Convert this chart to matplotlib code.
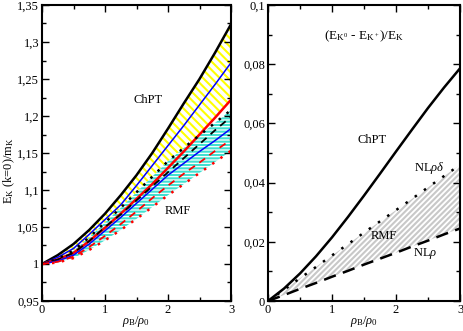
import numpy as np
import matplotlib
matplotlib.use("Agg")
import matplotlib.pyplot as plt
from matplotlib.ticker import MultipleLocator

plt.rcParams['font.family'] = ['Liberation Serif', 'DejaVu Serif']
plt.rcParams['mathtext.fontset'] = 'custom'
plt.rcParams['mathtext.rm'] = 'Liberation Serif'
plt.rcParams['mathtext.it'] = 'Liberation Serif:italic'
plt.rcParams['hatch.linewidth'] = 1.5

# density rho_B/rho_0
rho = [0, 0.25, 0.5, 0.75, 1.0, 1.25, 1.5, 1.75, 2.0, 2.25, 2.5, 2.75, 3.0]

# left panel: E_K(k=0)/m_K
chpt_top = [1, 1.012, 1.027, 1.046, 1.068, 1.093, 1.120, 1.150, 1.183, 1.217, 1.250, 1.286, 1.324]
chpt_blue = [1, 1.009, 1.021, 1.040, 1.060, 1.080, 1.106, 1.133, 1.160, 1.187, 1.215, 1.243, 1.272]
chpt_low = [1, 1.006, 1.015, 1.031, 1.049, 1.068, 1.088, 1.108, 1.130, 1.152, 1.175, 1.198, 1.222]
rmf_dot = [1, 1.007, 1.018, 1.036, 1.056, 1.076, 1.097, 1.118, 1.139, 1.157, 1.174, 1.191, 1.208]
rmf_dash = [1, 1.006, 1.015, 1.031, 1.050, 1.067, 1.086, 1.105, 1.124, 1.143, 1.162, 1.181, 1.199]
rmf_blue = [1, 1.004, 1.012, 1.027, 1.045, 1.063, 1.082, 1.101, 1.120, 1.136, 1.152, 1.167, 1.183]
rmf_rdash = [1, 1.003, 1.010, 1.023, 1.038, 1.054, 1.071, 1.089, 1.106, 1.122, 1.137, 1.153, 1.168]
rmf_rdot = [1, 1.002, 1.008, 1.019, 1.032, 1.046, 1.061, 1.077, 1.093, 1.108, 1.123, 1.138, 1.153]

# right panel: (E_K0 - E_K+)/E_K
diff_chpt = [0, 0.0042, 0.0093, 0.0151, 0.0215, 0.0284, 0.0356, 0.0430, 0.0505, 0.0579, 0.0652, 0.0721, 0.0786]
diff_nlrd = [0, 0.0038, 0.0077, 0.0115, 0.0154, 0.0192, 0.0231, 0.0269, 0.0307, 0.0345, 0.0384, 0.0422, 0.0460]
diff_nlr = [0, 0.0020, 0.0041, 0.0061, 0.0082, 0.0102, 0.0123, 0.0143, 0.0163, 0.0184, 0.0204, 0.0225, 0.0245]

left_yticks = [0.95, 1.0, 1.05, 1.1, 1.15, 1.2, 1.25, 1.3, 1.35]
left_ylabels = ["0,95", "1", "1,05", "1,1", "1,15", "1,2", "1,25", "1,3", "1,35"]
right_yticks = [0, 0.02, 0.04, 0.06, 0.08, 0.1]
right_ylabels = ["0", "0,02", "0,04", "0,06", "0,08", "0,1"]

fig = plt.figure(figsize=(4.63, 3.31), dpi=100)
ax1 = fig.add_axes([42/463, 30/331, 189/463, 296/331])
ax2 = fig.add_axes([268/463, 30/331, 192/463, 296/331])

# ChPT band (yellow) and RMF band (cyan)
ax1.fill_between(rho, chpt_low, chpt_top, facecolor='none', edgecolor='#ffff00',
                 hatch='\\\\\\\\', linewidth=0)
ax1.fill_between(rho, rmf_rdot, rmf_dot, facecolor='white', edgecolor='#40e0d0',
                 hatch='-----', linewidth=0)
ax1.plot(rho, chpt_top, color='k', lw=1.8)
ax1.plot(rho, chpt_blue, color='#0000ff', lw=1.1)
ax1.plot(rho, chpt_low, color='#ff0000', lw=1.8)
ax1.plot(rho, rmf_dot, color='k', lw=1.8, dashes=(1, 3))
ax1.plot(rho, rmf_dash, color='k', lw=1.3, dashes=(4, 3))
ax1.plot(rho, rmf_blue, color='#0000ff', lw=1.1)
ax1.plot(rho, rmf_rdash, color='#ff0000', lw=1.3, dashes=(4, 3))
ax1.plot(rho, rmf_rdot, color='#ff0000', lw=1.8, dashes=(1, 3))

ax1.text(1.69, 1.222, "ChPT", fontsize=9, ha='center', va='center')
ax1.text(2.15, 1.071, "RMF", fontsize=9, ha='center', va='center')

ax1.set_xlim(0, 3)
ax1.set_ylim(0.95, 1.35)
ax1.set_yticks(left_yticks)
ax1.set_yticklabels(left_ylabels)
ax1.yaxis.set_minor_locator(MultipleLocator(0.025))
ax1.set_ylabel("E$_{\\rm K}$ (k=0)/m$_{\\rm K}$", fontsize=9)
ax1.yaxis.set_label_coords(-0.13, 0.44)
ax1.set_xlabel("$\\rho_{\\rm B}/\\rho_0$", fontsize=9)

# right panel
ax2.fill_between(rho, diff_nlr, diff_nlrd, facecolor='none', edgecolor='#c8c8c8',
                 hatch='//////', linewidth=0)
ax2.plot(rho, diff_chpt, color='k', lw=1.8)
ax2.plot(rho, diff_nlrd, color='k', lw=1.8, dashes=(1, 3.5))
ax2.plot(rho, diff_nlr, color='k', lw=1.8, dashes=(5, 3))

ax2.text(1.5, 0.0896, "(E$_{\\rm K^0}$ - E$_{\\rm K^+}$)/E$_{\\rm K}$", fontsize=9.5,
         ha='center', va='center')
ax2.text(1.62, 0.0544, "ChPT", fontsize=9, ha='center', va='center')
ax2.text(2.52, 0.0448, "NL$\\rho\\delta$", fontsize=9, ha='center', va='center')
ax2.text(1.81, 0.0218, "RMF", fontsize=9, ha='center', va='center')
ax2.text(2.45, 0.0162, "NL$\\rho$", fontsize=9, ha='center', va='center')

ax2.set_xlim(0, 3)
ax2.set_ylim(0, 0.1)
ax2.set_yticks(right_yticks)
ax2.set_yticklabels(right_ylabels)
ax2.yaxis.set_minor_locator(MultipleLocator(0.01))
ax2.set_xlabel("$\\rho_{\\rm B}/\\rho_0$", fontsize=9)

for ax in (ax1, ax2):
    ax.set_xticks([0, 1, 2, 3])
    ax.set_xticklabels(["0", "1", "2", "3"])
    ax.xaxis.set_minor_locator(MultipleLocator(0.5))
    ax.xaxis.set_label_coords(0.5, -0.045)
    ax.tick_params(which='both', direction='in', top=True, right=True, labelsize=9, pad=2)
    ax.tick_params(which='major', length=5, width=1)
    ax.tick_params(which='minor', length=3, width=1)
    for s in ax.spines.values():
        s.set_linewidth(1.5)

fig.savefig("out.png", dpi=100)
